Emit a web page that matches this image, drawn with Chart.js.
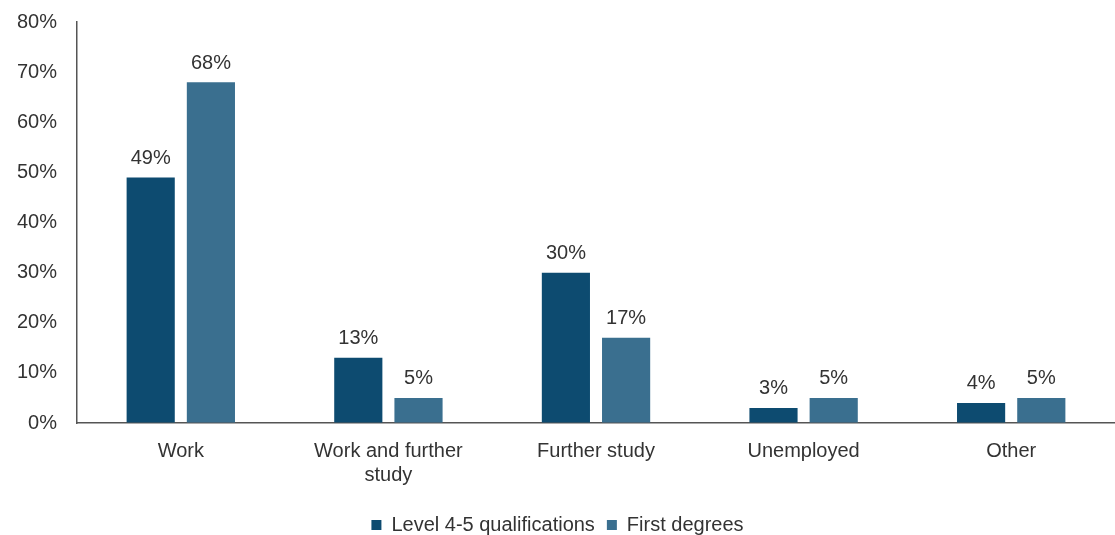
<!DOCTYPE html>
<html>
<head>
<meta charset="utf-8">
<script src="https://cdn.jsdelivr.net/npm/chart.js@4/dist/chart.umd.min.js"></script>
<style>
  html, body { margin: 0; padding: 0; background: #fff; }
  #wrap { width: 1115px; height: 535px; }
</style>
</head>
<body>
<div id="wrap"><canvas id="chart"></canvas></div>
<script>
const categories = ['Work', ['Work and further', 'study'], 'Further study', 'Unemployed', 'Other'];
const level45    = [49, 13, 30, 3, 4];
const firstDeg   = [68, 5, 17, 5, 5];
const yTicks     = [0, 10, 20, 30, 40, 50, 60, 70, 80];

const FONT = '"Liberation Sans", Arial, sans-serif';
const TEXT = '#333333';
const SIZE = 20;

// etiquettes au-dessus des barres
const barLabels = {
  id: 'barLabels',
  afterDatasetsDraw(chart) {
    const ctx = chart.ctx;
    ctx.save();
    ctx.font = SIZE + 'px ' + FONT;
    ctx.fillStyle = TEXT;
    ctx.textAlign = 'center';
    ctx.textBaseline = 'bottom';
    chart.data.datasets.forEach((ds, i) => {
      chart.getDatasetMeta(i).data.forEach((bar, j) => {
        ctx.fillText(ds.data[j] + '%', bar.x, bar.y - 9);
      });
    });
    ctx.restore();
  }
};

new Chart(document.getElementById('chart'), {
  type: 'bar',
  data: {
    labels: categories,
    datasets: [
      {
        label: 'Level 4-5 qualifications',
        data: level45,
        backgroundColor: '#0d4b70',
        categoryPercentage: 0.58,
        barPercentage: 0.8
      },
      {
        label: 'First degrees',
        data: firstDeg,
        backgroundColor: '#3a6f8f',
        categoryPercentage: 0.58,
        barPercentage: 0.8
      }
    ]
  },
  options: {
    responsive: true,
    maintainAspectRatio: false,
    animation: false,
    layout: { padding: { top: 22, right: 0, bottom: -10, left: 0 } },
    plugins: {
      legend: {
        position: 'bottom',
        labels: {
          boxWidth: 10,
          boxHeight: 10,
          padding: 12,
          color: TEXT,
          font: { family: FONT, size: SIZE }
        }
      },
      tooltip: { enabled: false }
    },
    scales: {
      x: {
        grid: { display: false, drawTicks: false },
        border: { display: true, color: '#555555', width: 1.5 },
        ticks: {
          color: TEXT,
          padding: 16,
          maxRotation: 0,
          font: { family: FONT, size: SIZE }
        }
      },
      y: {
        min: 0,
        max: 80,
        afterFit(scale) { scale.width = 77; },
        afterBuildTicks(scale) { scale.ticks = yTicks.map(v => ({ value: v })); },
        // tirets invisibles : ils servent seulement d'écart entre texte et axe
        grid: { drawOnChartArea: false, drawTicks: true, tickLength: 20, color: 'rgba(0,0,0,0)' },
        border: { display: true, color: '#555555', width: 1.5 },
        ticks: {
          color: TEXT,
          padding: 0,
          font: { family: FONT, size: SIZE },
          callback: v => v + '%'
        }
      }
    }
  },
  plugins: [barLabels]
});
</script>
</body>
</html>
